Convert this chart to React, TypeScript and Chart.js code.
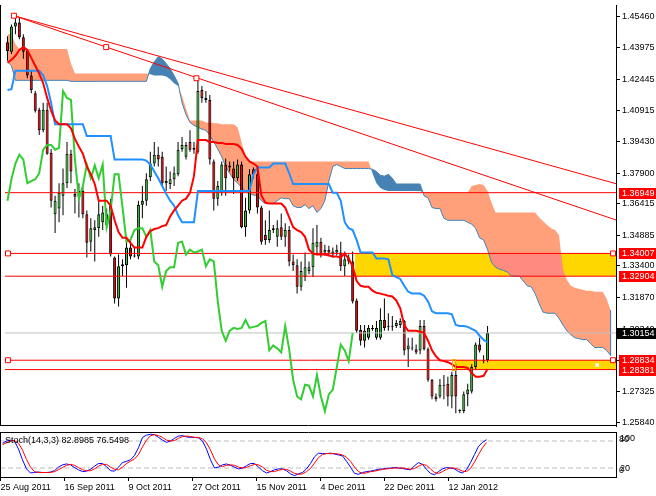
import React, { useEffect, useRef } from 'react';
import { Chart, registerables } from 'chart.js';

Chart.register(...registerables);

const FONT = "'Liberation Sans', Arial, sans-serif";

// ---------- Candles (EURUSD daily, 25 Aug 2011 - 23 Jan 2012) ----------
const opens = [
  1.4424,1.4377,1.4500,1.4519,1.4448,1.4381,1.4263,1.4177,1.4097,1.3997,
  1.4097,1.3888,1.3590,1.3618,1.3680,1.3741,1.3884,1.3689,1.3675,1.3703,
  1.3590,1.3457,1.3514,1.3523,1.3552,1.3538,1.3632,1.3381,1.3182,1.3338,
  1.3343,1.3429,1.3391,1.3386,1.3637,1.3656,1.3770,1.3836,1.3879,1.3869,
  1.3741,1.3737,1.3760,1.3784,1.3907,1.3869,1.3940,1.3903,1.3893,1.4192,
  1.4154,1.4144,1.3846,1.3666,1.3703,1.3831,1.3817,1.3812,1.3765,1.3831,
  1.3528,1.3609,1.3808,1.3784,1.3623,1.3490,1.3466,1.3514,1.3481,1.3528,
  1.3481,1.3514,1.3362,1.3343,1.3239,1.3286,1.3315,1.3334,1.3433,1.3457,
  1.3405,1.3419,1.3395,1.3405,1.3405,1.3338,1.3381,1.3362,1.3173,1.3030,
  1.2978,1.2992,1.3040,1.2992,1.2992,1.3078,1.3049,1.3045,1.3049,1.3054,
  1.3073,1.2936,1.2945,1.2936,1.2931,1.3049,1.2936,1.2789,1.2708,1.2708,
  1.2765,1.2770,1.2708,1.2812,1.2642,1.2637,1.2718,1.2732,1.2850,1.2959,
  1.2883,1.2883,
];
const highs = [
  1.4452,1.4509,1.4552,1.4542,1.4462,1.4391,1.4286,1.4187,1.4106,1.4130,
  1.4130,1.3907,1.3680,1.3741,1.3812,1.3940,1.3903,1.3713,1.3741,1.3727,
  1.3609,1.3571,1.3561,1.3656,1.3632,1.3618,1.3666,1.3386,1.3395,1.3372,
  1.3466,1.3466,1.3429,1.3656,1.3727,1.3789,1.3893,1.3940,1.3917,1.3893,
  1.3822,1.3798,1.3822,1.3940,1.3964,1.3940,1.3997,1.3940,1.4244,1.4211,
  1.4187,1.4168,1.3855,1.3751,1.3846,1.3860,1.3846,1.3846,1.3855,1.3846,
  1.3670,1.3808,1.3817,1.3808,1.3632,1.3561,1.3609,1.3538,1.3561,1.3594,
  1.3547,1.3533,1.3395,1.3372,1.3362,1.3405,1.3362,1.3523,1.3538,1.3476,
  1.3443,1.3438,1.3429,1.3443,1.3457,1.3410,1.3395,1.3410,1.3182,1.3054,
  1.3054,1.3054,1.3054,1.3073,1.3135,1.3182,1.3111,1.3097,1.3078,1.3087,
  1.3078,1.2992,1.2992,1.2959,1.3078,1.3078,1.2945,1.2793,1.2722,1.2793,
  1.2812,1.2803,1.2827,1.2864,1.2646,1.2732,1.2770,1.2864,1.2969,1.2992,
  1.2907,1.3049,
];
const lows = [
  1.4334,1.4367,1.4462,1.4438,1.4343,1.4249,1.4177,1.4083,1.3974,1.3988,
  1.3879,1.3623,1.3500,1.3552,1.3585,1.3718,1.3741,1.3594,1.3575,1.3571,
  1.3381,1.3410,1.3362,1.3481,1.3514,1.3519,1.3386,1.3158,1.3144,1.3291,
  1.3234,1.3372,1.3381,1.3372,1.3571,1.3632,1.3751,1.3822,1.3822,1.3727,
  1.3703,1.3713,1.3727,1.3775,1.3893,1.3855,1.3893,1.3884,1.3884,1.4130,
  1.4130,1.3831,1.3609,1.3632,1.3680,1.3680,1.3798,1.3689,1.3751,1.3523,
  1.3481,1.3594,1.3765,1.3594,1.3443,1.3443,1.3452,1.3500,1.3433,1.3466,
  1.3433,1.3338,1.3315,1.3206,1.3220,1.3267,1.3300,1.3286,1.3395,1.3381,
  1.3391,1.3391,1.3381,1.3391,1.3315,1.3291,1.3348,1.3158,1.3016,1.2955,
  1.2945,1.2983,1.3026,1.2983,1.2983,1.3026,1.3026,1.3026,1.3040,1.3040,
  1.2907,1.2850,1.2931,1.2912,1.2912,1.2931,1.2779,1.2694,1.2684,1.2699,
  1.2694,1.2661,1.2651,1.2627,1.2627,1.2627,1.2661,1.2722,1.2841,1.2921,
  1.2869,1.2874,
];
const closes = [
  1.4381,1.4500,1.4519,1.4448,1.4377,1.4263,1.4192,1.4092,1.3997,1.4097,
  1.3884,1.3656,1.3656,1.3694,1.3741,1.3884,1.3798,1.3675,1.3703,1.3590,
  1.3452,1.3523,1.3528,1.3590,1.3599,1.3590,1.3395,1.3182,1.3338,1.3348,
  1.3429,1.3386,1.3386,1.3637,1.3656,1.3760,1.3836,1.3879,1.3855,1.3741,
  1.3751,1.3760,1.3789,1.3903,1.3926,1.3926,1.3903,1.3912,1.4187,1.4154,
  1.4144,1.3855,1.3666,1.3727,1.3831,1.3765,1.3827,1.3765,1.3831,1.3528,
  1.3609,1.3784,1.3784,1.3623,1.3457,1.3466,1.3514,1.3523,1.3523,1.3481,
  1.3514,1.3362,1.3343,1.3239,1.3315,1.3334,1.3334,1.3452,1.3457,1.3395,
  1.3419,1.3405,1.3410,1.3419,1.3338,1.3372,1.3362,1.3168,1.3026,1.2978,
  1.3026,1.3040,1.3035,1.3040,1.3078,1.3040,1.3045,1.3049,1.3064,1.3073,
  1.2931,1.2955,1.2940,1.2921,1.3049,1.2936,1.2789,1.2708,1.2694,1.2765,
  1.2760,1.2708,1.2812,1.2708,1.2637,1.2718,1.2741,1.2850,1.2959,1.2931,
  1.2879,1.3015,
];

// ---------- Ichimoku ----------
const tenkan = [
  1.4324,1.4339,1.4358,1.4386,1.4400,1.4386,1.4348,1.4310,1.4272,1.4225,
  1.4154,1.4092,1.4045,1.4026,1.4026,1.4026,1.4007,1.3955,1.3917,1.3884,
  1.3822,1.3784,1.3737,1.3656,1.3656,1.3656,1.3632,1.3561,1.3504,1.3476,
  1.3476,1.3452,1.3429,1.3429,1.3429,1.3481,1.3509,1.3519,1.3523,1.3533,
  1.3538,1.3580,1.3609,1.3632,1.3656,1.3666,1.3694,1.3775,1.3950,1.3950,
  1.3950,1.3940,1.3940,1.3936,1.3936,1.3931,1.3931,1.3931,1.3926,1.3907,
  1.3869,1.3846,1.3836,1.3822,1.3680,1.3647,1.3642,1.3642,1.3642,1.3642,
  1.3623,1.3575,1.3528,1.3514,1.3504,1.3481,1.3419,1.3400,1.3395,1.3395,
  1.3395,1.3391,1.3386,1.3386,1.3381,1.3400,1.3376,1.3338,1.3267,1.3244,
  1.3239,1.3239,1.3220,1.3210,1.3206,1.3201,1.3196,1.3192,1.3173,1.3135,
  1.3054,1.3026,1.3026,1.3026,1.3021,1.3016,1.2978,1.2931,1.2902,1.2883,
  1.2879,1.2874,1.2864,1.2850,1.2850,1.2850,1.2846,1.2822,1.2803,1.2803,
  1.2808,1.2841,
];
const kijun = [
  1.4192,1.4196,1.4286,1.4286,1.4286,1.4286,1.4286,1.4286,1.4286,1.4263,
  1.4211,1.4130,1.4026,1.4026,1.4026,1.4026,1.4026,1.4026,1.4026,1.4026,
  1.3969,1.3969,1.3969,1.3969,1.3969,1.3969,1.3969,1.3855,1.3855,1.3855,
  1.3855,1.3855,1.3855,1.3855,1.3855,1.3850,1.3831,1.3798,1.3765,1.3727,
  1.3689,1.3656,1.3632,1.3585,1.3552,1.3552,1.3552,1.3552,1.3703,1.3703,
  1.3703,1.3703,1.3703,1.3703,1.3703,1.3703,1.3703,1.3703,1.3703,1.3703,
  1.3703,1.3703,1.3784,1.3817,1.3817,1.3817,1.3817,1.3836,1.3836,1.3836,
  1.3836,1.3789,1.3737,1.3737,1.3737,1.3737,1.3737,1.3737,1.3737,1.3737,
  1.3737,1.3737,1.3694,1.3694,1.3656,1.3552,1.3523,1.3514,1.3466,1.3405,
  1.3405,1.3405,1.3405,1.3376,1.3376,1.3376,1.3372,1.3296,1.3286,1.3277,
  1.3244,1.3215,1.3206,1.3206,1.3206,1.3196,1.3168,1.3120,1.3111,1.3111,
  1.3111,1.3111,1.3106,1.3054,1.3049,1.3049,1.3045,1.3035,1.3026,1.3002,
  1.2983,1.2969,
];
const senkouA = [
  1.4462,1.4462,1.4414,1.4391,1.4391,1.4391,1.4391,1.4391,1.4391,1.4391,
  1.4391,1.4391,1.4391,1.4391,1.4391,1.4391,1.4320,1.4272,1.4272,1.4272,
  1.4272,1.4272,1.4272,1.4272,1.4272,1.4272,1.4272,1.4272,1.4272,1.4272,
  1.4272,1.4272,1.4272,1.4272,1.4272,1.4272,1.4268,1.4263,1.4263,1.4263,
  1.4258,1.4244,1.4225,1.4211,1.4163,1.4102,1.4045,1.4045,1.4045,1.4045,
  1.4035,1.4035,1.4031,1.4031,1.4026,1.4026,1.4026,1.4026,1.4012,1.3940,
  1.3869,1.3846,1.3846,1.3846,1.3846,1.3846,1.3846,1.3846,1.3846,1.3846,
  1.3846,1.3846,1.3846,1.3846,1.3846,1.3846,1.3846,1.3846,1.3846,1.3846,
  1.3846,1.3846,1.3846,1.3846,1.3846,1.3846,1.3846,1.3846,1.3846,1.3846,
  1.3846,1.3846,1.3789,1.3741,1.3718,1.3708,1.3703,1.3703,1.3703,1.3703,
  1.3703,1.3703,1.3703,1.3703,1.3703,1.3694,1.3694,1.3694,1.3694,1.3694,
  1.3694,1.3694,1.3694,1.3694,1.3694,1.3694,1.3694,1.3727,1.3732,1.3737,
  1.3732,1.3703,1.3647,1.3599,1.3599,1.3599,1.3599,1.3599,1.3599,1.3599,
  1.3599,1.3599,1.3599,1.3599,1.3575,1.3557,1.3538,1.3523,1.3514,1.3490,
  1.3324,1.3272,1.3244,1.3234,1.3229,1.3225,1.3220,1.3220,1.3215,1.3215,
  1.3215,1.3182,1.3125,
];
const senkouB = [
  1.4329,1.4310,1.4239,1.4239,1.4239,1.4239,1.4239,1.4239,1.4239,1.4239,
  1.4239,1.4239,1.4239,1.4239,1.4239,1.4239,1.4234,1.4234,1.4234,1.4234,
  1.4234,1.4234,1.4234,1.4234,1.4234,1.4234,1.4234,1.4234,1.4234,1.4234,
  1.4234,1.4234,1.4234,1.4234,1.4234,1.4234,1.4296,1.4329,1.4353,1.4343,
  1.4320,1.4296,1.4263,1.4225,1.4130,1.4073,1.4035,1.4021,1.4012,1.4002,
  1.3997,1.3974,1.3940,1.3907,1.3869,1.3822,1.3789,1.3760,1.3741,1.3722,
  1.3703,1.3689,1.3684,1.3680,1.3656,1.3642,1.3642,1.3642,1.3656,1.3670,
  1.3666,1.3666,1.3632,1.3623,1.3623,1.3637,1.3618,1.3632,1.3599,1.3618,
  1.3656,1.3751,1.3822,1.3831,1.3822,1.3812,1.3812,1.3812,1.3812,1.3812,
  1.3812,1.3812,1.3808,1.3798,1.3779,1.3775,1.3784,1.3765,1.3737,1.3737,
  1.3737,1.3737,1.3737,1.3737,1.3737,1.3680,1.3670,1.3623,1.3618,1.3618,
  1.3571,1.3561,1.3561,1.3561,1.3561,1.3561,1.3552,1.3542,1.3523,1.3476,
  1.3466,1.3419,1.3357,1.3334,1.3324,1.3319,1.3310,1.3291,1.3291,1.3291,
  1.3267,1.3244,1.3239,1.3206,1.3158,1.3116,1.3111,1.3111,1.3111,1.3087,
  1.3054,1.3026,1.3007,1.2992,1.2988,1.2983,1.2983,1.2964,1.2945,1.2945,
  1.2945,1.2931,1.2907,
];
const chikouShift = 34;

// ---------- Stochastic (14,3,3) ----------
const stochMain = [
  75,80,82,80,62,38,18,9,10,11,
  10,10,11,14,22,27,29,27,21,16,
  12,13,17,24,30,30,23,14,13,22,
  32,35,38,48,65,88,93,95,94,88,
  82,77,80,86,91,92,89,88,88,87,
  80,62,38,20,22,27,29,26,22,18,
  20,25,30,30,22,14,9,12,16,18,
  18,14,7,3,7,10,18,30,45,53,
  52,52,53,51,49,47,35,22,8,6,
  10,12,13,15,17,18,19,20,21,20,
  19,17,16,25,32,28,17,8,5,12,
  18,21,20,18,12,9,16,32,50,68,
  77,82.8985,
];
const stochSignal = [
  72,76,80,81,75,60,39,22,12,10,
  10,10,10,12,16,21,26,28,26,21,
  16,14,14,18,24,28,28,22,17,16,
  22,30,35,40,50,67,82,92,94,92,
  88,82,80,81,86,90,91,90,88,88,
  85,76,60,40,27,23,26,27,26,22,
  20,21,25,28,27,22,15,12,12,15,
  17,17,13,8,6,7,12,19,31,43,
  50,52,52,52,51,49,44,35,22,12,
  8,9,12,13,15,17,18,19,20,20,
  20,19,17,19,24,28,26,18,10,8,
  12,17,20,20,17,13,12,19,33,50,
  65,76.5498,
];
const stochLevels = [80, 20];

// ---------- Axes ----------
const priceTicks = [1.4546, 1.43975, 1.42445, 1.40915, 1.3943, 1.379, 1.36415, 1.34885, 1.334, 1.3187, 1.3034, 1.2881, 1.27325, 1.2584];
const priceMin = 1.25648;
const priceMax = 1.46039;
const dateLabels = ['25 Aug 2011', '16 Sep 2011', '9 Oct 2011', '27 Oct 2011', '15 Nov 2011', '4 Dec 2011', '22 Dec 2011', '12 Jan 2012'];
const dateTickBars = [0, 16, 32, 48, 64, 80, 96, 112];
const X_MIN = -0.625;
const X_MAX = 153.375;

// ---------- Drawn objects ----------
const levelPrices = [1.36949, 1.34007, 1.32904, 1.28834, 1.28381];
const levelAnchored = [false, true, false, true, false];
const levelAnchorBars = [0.125, 152.625];
const bidPrice = 1.30154;
const zoneTops = [1.34007, 1.28834];
const zoneBottoms = [1.32904, 1.28381];
const zoneStartBars = [87.625, 112.625];
const trendStartBar = 1.625;
const trendEndBar = 153.625;
const trendStartPrices = [1.4552, 1.4552];
const trendEndPrices = [1.3737, 1.3561];
const trendAnchorBars = [1.625, 24.875, 47.625];
const trendAnchorPrices = [1.4552, 1.4400, 1.4249];
const markerBar = 148.625;
const markerPrice = 1.2860;

const BULL = '#32CD32';
const BEAR = '#FF0000';
const SALMON = '#FFA07A';
const STEEL = '#4682B4';
const GOLD = '#FFD700';
const OVERLAP = '#FF8A80';

export default function App() {
  const mainRef = useRef<HTMLCanvasElement>(null);
  const stochRef = useRef<HTMLCanvasElement>(null);

  useEffect(() => {
    document.body.style.margin = '0';
    Chart.defaults.font.family = FONT;
    Chart.defaults.font.size = 9;
    Chart.defaults.color = '#000';

    const line = (data: any[], color: string, width: number, order: number, extra: any = {}) => ({
      type: 'line',
      data,
      borderColor: color,
      borderWidth: width,
      pointRadius: 0,
      tension: 0,
      fill: false,
      order,
      ...extra,
    });

    const datasets: any[] = [];
    // senkou B (thin edge of the cloud; the cloud body is painted below all datasets)
    datasets.push(line(senkouB.map((v, i) => ({ x: i, y: v })), STEEL, 1, 30));
    const lastCloud = senkouA.length - 1;
    datasets.push(line([{ x: lastCloud, y: senkouA[lastCloud] }, { x: lastCloud, y: senkouB[lastCloud] }], STEEL, 1, 29));
    // candles
    datasets.push({
      type: 'bar',
      data: closes.map((_, i) => ({ x: i, y: [lows[i], highs[i]] })),
      backgroundColor: '#000',
      borderWidth: 0,
      barThickness: 1,
      grouped: false,
      inflateAmount: 0,
      order: 20,
    });
    datasets.push({
      type: 'bar',
      data: closes.map((c, i) => ({ x: i, y: [opens[i], c] })),
      backgroundColor: closes.map((c, i) => (c >= opens[i] ? BULL : BEAR)),
      borderColor: '#000',
      borderWidth: 1,
      borderSkipped: false,
      barThickness: 3,
      minBarLength: 1,
      grouped: false,
      inflateAmount: 0,
      order: 19,
    });
    // bid line
    datasets.push(line([{ x: X_MIN, y: bidPrice }, { x: X_MAX, y: bidPrice }], '#C0C0C0', 1, 15));
    // horizontal levels
    levelPrices.forEach((p, k) => {
      const pts = [
        { x: X_MIN, y: p },
        { x: levelAnchorBars[0], y: p },
        { x: levelAnchorBars[1], y: p },
        { x: X_MAX, y: p },
      ];
      const r = levelAnchored[k] ? 3.5 : 0;
      datasets.push(line(pts, '#FF0000', 1, 14, {
        pointRadius: [0, r, r, 0],
        pointStyle: 'rect',
        pointBackgroundColor: '#FFFFFF',
        pointBorderColor: '#FF0000',
        pointBorderWidth: 1,
      }));
    });
    // trend lines
    trendStartPrices.forEach((p, k) => {
      datasets.push(line([{ x: trendStartBar, y: p }, { x: trendEndBar, y: trendEndPrices[k] }], '#FF0000', 1, 14));
    });
    datasets.push(line(trendAnchorBars.map((b, k) => ({ x: b, y: trendAnchorPrices[k] })), '#FF0000', 0, 13, {
      showLine: false,
      pointRadius: 3.5,
      pointStyle: 'rect',
      pointBackgroundColor: '#FFFFFF',
      pointBorderColor: '#FF0000',
      pointBorderWidth: 1,
    }));
    // small white marker in the lower zone
    datasets.push(line([{ x: markerBar, y: markerPrice }], '#FFFFFF', 0, 13, {
      showLine: false,
      pointRadius: 2.5,
      pointStyle: 'rect',
      pointBackgroundColor: '#FFFFFF',
      pointBorderColor: '#FFFFFF',
      pointBorderWidth: 0,
    }));
    // chikou, kijun, tenkan
    datasets.push(line(closes.slice(chikouShift).map((c, k) => ({ x: k, y: c })), '#32CD32', 2, 12));
    datasets.push(line(kijun.map((v, i) => ({ x: i, y: v })), '#1E90FF', 2, 11));
    datasets.push(line(tenkan.map((v, i) => ({ x: i, y: v })), '#FF0000', 2, 10));

    const zoneRects = (chart: any) => {
      const { chartArea } = chart;
      const xs = chart.scales.x;
      const ys = chart.scales.y;
      return zoneTops.map((top, k) => {
        const x0 = xs.getPixelForValue(zoneStartBars[k]);
        const y0 = ys.getPixelForValue(top);
        const y1 = ys.getPixelForValue(zoneBottoms[k]);
        return { x: x0, y: y0, w: chartArea.right - x0, h: y1 - y0 };
      });
    };

    const mainDeco = {
      id: 'mainDeco',
      beforeDatasetsDraw(chart: any) {
        const { ctx, chartArea } = chart;
        const xs = chart.scales.x;
        const ys = chart.scales.y;
        const px = (i: number) => xs.getPixelForValue(i);
        const cloudPath = () => {
          ctx.beginPath();
          senkouA.forEach((v, i) => {
            if (i === 0) ctx.moveTo(px(i), ys.getPixelForValue(v));
            else ctx.lineTo(px(i), ys.getPixelForValue(v));
          });
          for (let i = senkouB.length - 1; i >= 0; i--) ctx.lineTo(px(i), ys.getPixelForValue(senkouB[i]));
          ctx.closePath();
        };
        const clipSideOfB = (edgeY: number) => {
          ctx.beginPath();
          senkouB.forEach((v, i) => {
            if (i === 0) ctx.moveTo(px(i), ys.getPixelForValue(v));
            else ctx.lineTo(px(i), ys.getPixelForValue(v));
          });
          ctx.lineTo(px(senkouB.length - 1), edgeY);
          ctx.lineTo(px(0), edgeY);
          ctx.closePath();
          ctx.clip();
        };
        ctx.save();
        ctx.beginPath();
        ctx.rect(chartArea.left, chartArea.top, chartArea.right - chartArea.left, chartArea.bottom - chartArea.top);
        ctx.clip();
        // yellow zones
        ctx.fillStyle = GOLD;
        const rects = zoneRects(chart);
        rects.forEach((r) => ctx.fillRect(r.x, r.y, r.w, r.h));
        // cloud: span A above span B -> salmon
        ctx.save();
        clipSideOfB(chartArea.top - 10);
        cloudPath();
        ctx.fillStyle = SALMON;
        ctx.fill();
        // overlap of salmon cloud with yellow zones
        ctx.beginPath();
        rects.forEach((r) => ctx.rect(r.x, r.y, r.w, r.h));
        ctx.clip();
        cloudPath();
        ctx.fillStyle = OVERLAP;
        ctx.fill();
        ctx.restore();
        // cloud: span B above span A -> steel blue
        ctx.save();
        clipSideOfB(chartArea.bottom + 10);
        cloudPath();
        ctx.fillStyle = STEEL;
        ctx.fill();
        ctx.restore();
        ctx.restore();
      },
      afterDraw(chart: any) {
        const { ctx, chartArea } = chart;
        const ys = chart.scales.y;
        ctx.save();
        // selection handle at the left edge of the lower zone
        const z = zoneRects(chart)[1];
        ctx.strokeStyle = '#FFA500';
        ctx.lineWidth = 1;
        ctx.strokeRect(Math.round(z.x) - 1.5, Math.round(z.y) - 0.5, 3, Math.round(z.h) + 2);
        ctx.strokeStyle = '#000';
        ctx.beginPath();
        ctx.moveTo(0.5, chartArea.top);
        ctx.lineTo(0.5, chartArea.bottom);
        ctx.moveTo(0, chartArea.bottom - 0.5);
        ctx.lineTo(chartArea.right + 1, chartArea.bottom - 0.5);
        ctx.stroke();
        ctx.font = `9px ${FONT}`;
        ctx.textBaseline = 'middle';
        ctx.textAlign = 'left';
        const tag = (v: number, bg: string, x0: number) => {
          const py = Math.round(ys.getPixelForValue(v));
          ctx.fillStyle = bg;
          ctx.fillRect(x0, py - 5, 656 - x0, 11);
          ctx.fillStyle = '#FFFFFF';
          ctx.fillText(v.toFixed(5), chartArea.right + 6, py + 0.5);
        };
        levelPrices.forEach((v) => tag(v, '#FF0000', chartArea.right + 3));
        tag(bidPrice, '#000000', chartArea.right + 1);
        ctx.restore();
      },
    };

    const main = new Chart(mainRef.current as HTMLCanvasElement, {
      type: 'line',
      data: { datasets },
      options: {
        responsive: false,
        animation: false,
        devicePixelRatio: 1,
        events: [],
        layout: { padding: { top: 0, left: 0, right: 0, bottom: 1 } },
        plugins: { legend: { display: false }, tooltip: { enabled: false } },
        scales: {
          x: { type: 'linear', min: X_MIN, max: X_MAX, offset: false, display: false },
          y: {
            type: 'linear',
            position: 'right',
            min: priceMin,
            max: priceMax,
            afterBuildTicks: (s: any) => {
              s.ticks = priceTicks.map((v) => ({ value: v }));
            },
            afterFit: (s: any) => {
              s.width = 40;
              s.paddingTop = 0;
              s.paddingBottom = 0;
            },
            ticks: {
              autoSkip: false,
              padding: 2,
              color: '#000',
              font: { family: FONT, size: 9 },
              callback: (v: any) => Number(v).toFixed(5),
            },
            grid: { drawOnChartArea: false, drawTicks: true, tickLength: 4, color: '#000' },
            border: { display: true, color: '#000', width: 1 },
          },
        },
      } as any,
      plugins: [mainDeco],
    } as any);

    const stochDeco = {
      id: 'stochDeco',
      afterDraw(chart: any) {
        const { ctx, chartArea } = chart;
        const ys = chart.scales.y;
        ctx.save();
        ctx.strokeStyle = '#000';
        ctx.lineWidth = 1;
        ctx.beginPath();
        ctx.moveTo(0.5, chartArea.top);
        ctx.lineTo(0.5, chartArea.bottom);
        ctx.moveTo(0, chartArea.top + 0.5);
        ctx.lineTo(chartArea.right + 1, chartArea.top + 0.5);
        ctx.stroke();
        ctx.fillStyle = '#000';
        ctx.font = `9px ${FONT}`;
        ctx.textBaseline = 'middle';
        ctx.textAlign = 'left';
        const last = stochMain.length - 1;
        ctx.fillText(`Stoch(14,3,3) ${stochMain[last].toFixed(4)} ${stochSignal[last].toFixed(4)}`, 5, chartArea.top + 9);
        const r = chartArea.right;
        ctx.fillText('100', r + 4, ys.getPixelForValue(100) + 6.5);
        ctx.fillText('80', r + 3, ys.getPixelForValue(80) - 1);
        ctx.fillText('20', r + 4, ys.getPixelForValue(20) + 0.5);
        ctx.fillText('0', r + 3, ys.getPixelForValue(0) - 6);
        ctx.restore();
      },
    };

    const sLine = (data: any[], color: string, order: number, extra: any = {}) => ({
      type: 'line',
      data,
      borderColor: color,
      borderWidth: 1,
      pointRadius: 0,
      tension: 0,
      fill: false,
      order,
      ...extra,
    });

    const stochDatasets: any[] = [
      ...stochLevels.map((lv) => sLine([{ x: X_MIN, y: lv }, { x: X_MAX, y: lv }], '#BDBDBD', 5, { borderDash: [5, 3] })),
      sLine(stochSignal.map((v, i) => ({ x: i, y: v })), '#FF0000', 1),
      sLine(stochMain.map((v, i) => ({ x: i, y: v })), '#0000FF', 2),
    ];

    const stoch = new Chart(stochRef.current as HTMLCanvasElement, {
      type: 'line',
      data: { datasets: stochDatasets },
      options: {
        responsive: false,
        animation: false,
        devicePixelRatio: 1,
        events: [],
        layout: { padding: { top: 1, left: 0, right: 0, bottom: 0 } },
        plugins: { legend: { display: false }, tooltip: { enabled: false } },
        scales: {
          x: {
            type: 'linear',
            min: X_MIN,
            max: X_MAX,
            offset: false,
            position: 'bottom',
            afterBuildTicks: (s: any) => {
              s.ticks = dateTickBars.map((b) => ({ value: b - 0.5 }));
            },
            afterFit: (s: any) => {
              s.height = 19;
              s.paddingLeft = 0;
              s.paddingRight = 0;
            },
            ticks: {
              autoSkip: false,
              maxRotation: 0,
              minRotation: 0,
              align: 'start',
              padding: 1,
              color: '#000',
              font: { family: FONT, size: 9 },
              callback: (_v: any, i: number) => dateLabels[i],
            },
            grid: { drawOnChartArea: false, drawTicks: true, tickLength: 4, color: '#000' },
            border: { display: true, color: '#000', width: 1 },
          },
          y: {
            type: 'linear',
            position: 'right',
            min: 0,
            max: 100,
            afterFit: (s: any) => {
              s.width = 40;
              s.paddingTop = 0;
              s.paddingBottom = 0;
            },
            ticks: { display: false },
            grid: { display: false },
            border: { display: true, color: '#000', width: 1 },
          },
        },
      } as any,
      plugins: [stochDeco],
    } as any);

    return () => {
      main.destroy();
      stoch.destroy();
    };
  }, []);

  return (
    <div style={{ position: 'fixed', left: 0, top: 0, width: 656, height: 496, background: '#FFFFFF' }}>
      <canvas ref={mainRef} width={656} height={431} style={{ position: 'absolute', left: 0, top: 0 }} />
      <canvas ref={stochRef} width={656} height={65} style={{ position: 'absolute', left: 0, top: 431 }} />
    </div>
  );
}
